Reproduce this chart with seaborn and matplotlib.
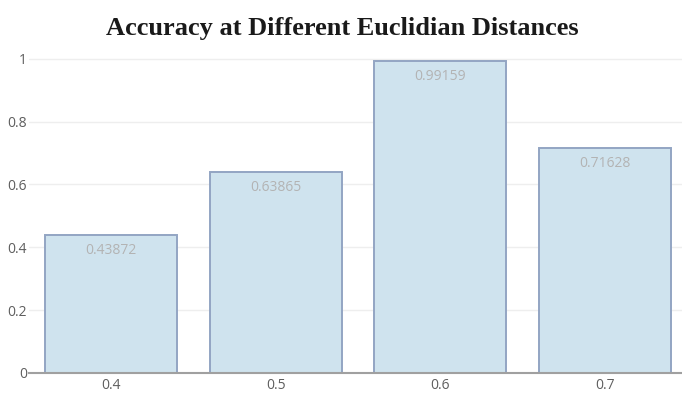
import matplotlib
matplotlib.use("Agg")
import matplotlib.pyplot as plt
import seaborn as sns
import pandas as pd

distances = ["0.4", "0.5", "0.6", "0.7"]
accuracy = [0.43872, 0.63865, 0.99159, 0.71628]
y_ticks = [0, 0.2, 0.4, 0.6, 0.8, 1]
y_tick_labels = ["0", "0.2", "0.4", "0.6", "0.8", "1"]

df = pd.DataFrame({"distance": distances, "accuracy": accuracy})

sns.set_theme(style="white")
plt.rcParams["font.family"] = ["Open Sans", "DejaVu Sans"]

W, H = 682, 393
fig = plt.figure(figsize=(W / 100, H / 100), dpi=100)
# plot area in pixels: left 29, width 658, zero line at y=373, top at y=43
left, right_px, bottom_px, top_px = 29, 687, 373, 43
ax = fig.add_axes([left / W, (H - bottom_px) / H,
                   (right_px - left) / W, (bottom_px - top_px) / H])

sns.barplot(data=df, x="distance", y="accuracy", ax=ax, width=0.8,
            color="#cfe3ee", edgecolor="#93a5c3", linewidth=1.4,
            saturation=1, zorder=3)

ax.set_xlim(-0.5, 3.5)
ax.set_ylim(0, 1.05)
ax.set_yticks(y_ticks)
ax.set_yticklabels(y_tick_labels)
ax.set_xlabel("")
ax.set_ylabel("")

for s in ["top", "right", "left"]:
    ax.spines[s].set_visible(False)
ax.spines["bottom"].set_color("#a0a0a0")
ax.spines["bottom"].set_linewidth(1.5)
ax.spines["bottom"].set_zorder(4)

ax.grid(axis="y", color="#eeeeee", linewidth=1, zorder=0)
ax.tick_params(axis="y", length=0, pad=1.5, labelsize=10, labelcolor="#5e5e5e")
ax.tick_params(axis="x", length=0, pad=3.5, labelsize=10, labelcolor="#5e5e5e")

for i, v in enumerate(accuracy):
    ax.text(i, v - 0.049, f"{v:g}", ha="center", va="center",
            fontsize=10, color="#b3b3b3", zorder=5)

fig.text(0.5 * (104 + 581) / W, 1 - 28 / H,
         "Accuracy at Different Euclidian Distances",
         ha="center", va="center", fontsize=19, fontweight="bold",
         family=["Liberation Serif", "DejaVu Serif"], color="#1a1a1a")

fig.savefig("out.png", dpi=100)
